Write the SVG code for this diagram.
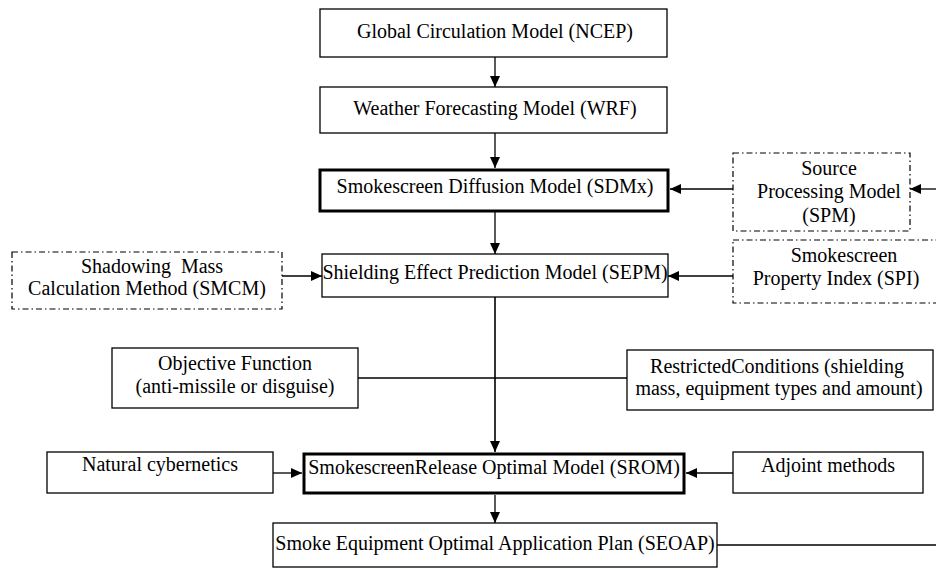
<svg xmlns="http://www.w3.org/2000/svg" width="936" height="568" viewBox="0 0 936 568">
<style>
text{font-family:"Liberation Serif","Times New Roman",serif;font-size:20px;fill:#000;text-anchor:middle}
.b{fill:#fff;stroke:#000;stroke-width:1.3}
.t{fill:#fff;stroke:#000;stroke-width:3}
.d{fill:#fff;stroke:#000;stroke-width:1.2;stroke-dasharray:6 3 1.5 3}
.c{fill:none;stroke:#000;stroke-width:1.3}
.a{marker-end:url(#ah)}
</style>
<defs>
<marker id="ah" markerUnits="userSpaceOnUse" markerWidth="11" markerHeight="10" refX="11" refY="5" orient="auto">
<path d="M0,0 L11,5 L0,10 z" fill="#000"/>
</marker>
</defs>
<rect width="936" height="568" fill="#fff"/>
<g id="connectors">
<line class="c a" x1="495" y1="57" x2="495" y2="87"/>
<line class="c a" x1="495" y1="133" x2="495" y2="168"/>
<line class="c a" x1="495" y1="212" x2="495" y2="254"/>
<line class="c a" x1="282" y1="276" x2="322" y2="276"/>
<line class="c a" x1="733" y1="189" x2="670" y2="189"/>
<line class="c a" x1="936" y1="189" x2="910" y2="189"/>
<line class="c a" x1="733" y1="276" x2="668" y2="276"/>
<line class="c" x1="358" y1="378" x2="627" y2="378"/>
<line class="c a" x1="495" y1="297" x2="495" y2="452" style="stroke-width:1.6"/>
<line class="c a" x1="273" y1="473" x2="302" y2="473"/>
<line class="c a" x1="733" y1="473" x2="686" y2="473"/>
<line class="c a" x1="495" y1="495" x2="495" y2="523"/>
<line class="c" x1="717" y1="545" x2="936" y2="545"/>
</g>
<g id="ncep">
<rect class="b" x="320" y="9" width="347" height="48"/>
<text x="495" y="38">Global Circulation Model (NCEP)</text>
</g>
<g id="wrf">
<rect class="b" x="320" y="87" width="347" height="46"/>
<text x="495" y="115">Weather Forecasting Model (WRF)</text>
</g>
<g id="sdmx">
<rect class="t" x="320" y="170" width="348" height="41"/>
<text x="495" y="193">Smokescreen Diffusion Model (SDMx)</text>
</g>
<g id="spm">
<rect class="d" x="733" y="153" width="177" height="78"/>
<text x="829" y="175">Source</text>
<text x="829" y="198">Processing Model</text>
<text x="829" y="222">(SPM)</text>
</g>
<g id="smcm">
<rect class="d" x="12" y="252" width="270" height="57"/>
<text x="152" y="273" xml:space="preserve">Shadowing  Mass</text>
<text x="147" y="295">Calculation Method (SMCM)</text>
</g>
<g id="sepm">
<rect class="b" x="322" y="254" width="346" height="43"/>
<text x="495" y="279">Shielding Effect Prediction Model (SEPM)</text>
</g>
<g id="spi">
<rect class="d" x="733" y="240" width="220" height="63"/>
<text x="844" y="262">Smokescreen</text>
<text x="836" y="285">Property Index (SPI)</text>
</g>
<g id="objective">
<rect class="b" x="112" y="348" width="246" height="60"/>
<text x="235" y="370">Objective Function</text>
<text x="235" y="393">(anti-missile or disguise)</text>
</g>
<g id="restricted">
<rect class="b" x="627" y="350" width="306" height="60"/>
<text x="777" y="373">RestrictedConditions (shielding</text>
<text x="779" y="395">mass, equipment types and amount)</text>
</g>
<g id="natural">
<rect class="b" x="47" y="452" width="226" height="41"/>
<text x="160" y="471">Natural cybernetics</text>
</g>
<g id="srom">
<rect class="t" x="304" y="454" width="380" height="39"/>
<text x="494" y="474">SmokescreenRelease Optimal Model (SROM)</text>
</g>
<g id="adjoint">
<rect class="b" x="733" y="452" width="190" height="41"/>
<text x="828" y="472">Adjoint methods</text>
</g>
<g id="seoap">
<rect class="b" x="273" y="523" width="444" height="44"/>
<text x="495" y="550">Smoke Equipment Optimal Application Plan (SEOAP)</text>
</g>
</svg>
